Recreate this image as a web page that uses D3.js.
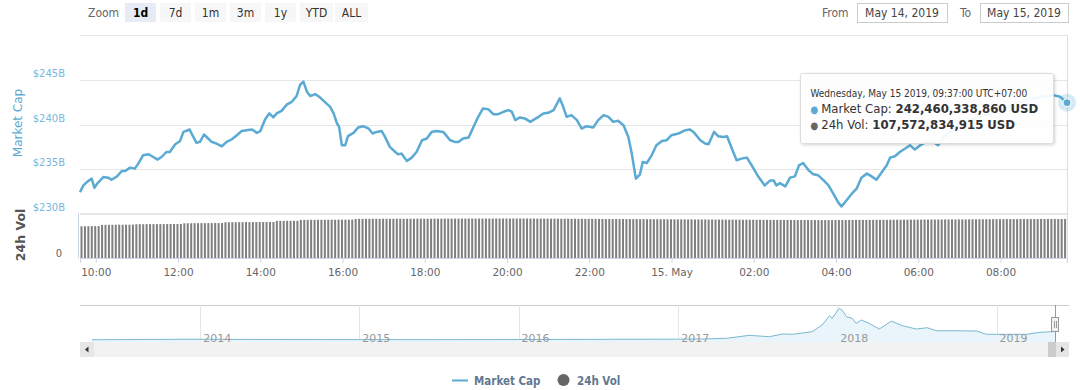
<!DOCTYPE html>
<html>
<head>
<meta charset="utf-8">
<script src="https://cdn.jsdelivr.net/npm/d3@7"></script>
<style>
  body { margin: 0; background: #fff; }
  svg { display: block; font-family: "DejaVu Sans", sans-serif; }
</style>
</head>
<body>
<script>
var width = 1080, height = 390;

// Market cap, minutes after 09:37 on May 14 2019, values in $B
var capMinutes = [0,5,10,17,21,25,34,41,46,54,61,66,73,80,85,92,100,107,113,119,126,131,139,146,151,160,164,170,175,181,187,192,199,207,214,221,229,236,243,251,258,263,270,276,282,287,294,302,309,316,321,326,331,336,343,350,357,365,370,375,378,382,387,391,399,406,413,421,427,433,440,445,452,460,464,469,477,484,491,499,506,513,520,530,540,547,552,559,567,574,581,588,596,603,610,618,625,630,635,642,649,657,661,669,676,683,691,698,700,705,710,717,725,732,739,749,756,764,771,778,785,793,800,805,811,817,821,827,834,841,849,856,863,873,883,890,895,905,912,917,925,931,939,944,951,958,965,973,980,990,999,1007,1012,1016,1021,1029,1036,1043,1049,1055,1063,1070,1077,1085,1092,1099,1106,1111,1119,1126,1133,1140,1148,1155,1162,1170,1177,1182,1189,1196,1204,1211,1218,1226,1237,1245,1252,1262,1277,1291,1306,1320,1335,1350,1364,1379,1393,1403,1420,1430,1440];
var capValues = [232.45,233.20,233.57,233.96,232.94,233.39,234.13,234.07,233.84,234.21,234.81,234.81,235.19,235.08,235.64,236.57,236.69,236.38,236.09,236.38,236.94,236.94,237.81,238.18,239.19,239.46,238.82,237.96,238.07,238.90,238.45,238.07,237.89,237.58,238.07,238.34,238.82,239.30,239.38,239.46,239.08,239.27,240.58,241.26,240.81,241.26,241.55,242.27,242.56,243.20,244.44,244.81,243.69,243.20,243.43,243.06,242.56,242.00,241.26,240.13,239.75,237.70,237.70,238.71,239.08,239.69,239.83,239.57,239.01,239.19,239.30,238.63,237.51,236.94,236.69,236.76,235.93,236.31,236.94,238.26,238.45,239.19,239.30,239.19,238.26,238.07,238.07,238.45,238.56,239.75,240.88,241.82,241.71,241.18,241.18,241.44,241.63,241.44,240.51,240.81,240.70,240.31,240.51,240.88,241.26,241.33,241.63,242.67,242.94,242.00,240.88,241.07,240.51,239.57,239.83,239.69,240.51,241.07,240.88,240.31,240.43,239.94,238.63,236.76,233.96,234.44,235.82,235.71,236.57,237.70,238.18,238.26,238.82,239.01,239.38,239.46,239.19,238.26,237.89,237.81,239.19,238.71,238.63,238.71,237.33,236.01,236.20,236.31,235.45,234.13,233.20,233.76,233.76,233.20,233.46,233.09,234.07,234.21,235.45,235.71,234.89,234.44,234.33,233.76,233.20,232.27,231.33,230.84,231.60,232.27,232.83,234.07,234.52,234.21,233.84,234.70,235.45,236.31,236.46,236.94,237.33,237.70,237.21,237.70,238.15,238.07,237.70,238.82,239.61,240.28,240.73,241.07,241.40,241.85,242.30,242.75,242.98,243.12,243.31,243.12,242.46];

// 24h volume in $B, one value per 5 minutes, one row per hour
var volValues = [
  87.4,87.6,87.5,87.8,87.9,88.1,91.2,91.4,91.3,91.6,91.5,91.7,
  91.6,91.8,91.7,92.0,93.1,93.2,93.0,93.3,93.2,93.4,93.3,93.5,
  93.4,93.6,93.5,93.7,93.6,93.8,95.7,95.9,95.8,96.0,95.9,96.1,
  96.0,96.2,96.1,96.3,96.2,96.4,98.5,98.6,98.7,98.6,98.8,98.7,
  98.9,98.8,99.0,98.9,99.1,99.0,99.2,99.1,99.3,102.2,102.4,102.3,
  102.5,102.4,102.6,102.5,105.0,105.2,105.1,105.3,105.2,105.4,105.3,105.5,
  105.4,105.6,105.5,105.7,105.6,105.8,105.7,105.9,107.8,108.0,107.9,108.1,
  108.0,107.9,108.1,108.0,108.2,108.1,108.0,108.2,108.1,108.3,108.2,108.1,
  108.3,108.2,108.4,108.3,108.2,108.4,108.3,108.5,108.4,108.3,108.5,108.4,
  108.6,108.5,108.4,108.6,108.5,108.7,108.6,108.5,108.7,108.6,108.8,108.7,
  108.6,108.8,108.7,108.9,108.8,108.7,108.9,108.8,108.7,108.9,108.8,108.6,
  108.7,108.5,108.6,108.4,108.5,108.3,108.4,108.2,108.3,108.1,108.2,108.0,
  108.1,107.9,108.0,107.8,107.9,107.7,107.8,107.6,107.7,107.5,107.6,107.4,
  107.5,107.3,107.4,107.2,107.3,107.1,107.2,107.0,107.1,106.9,107.0,106.8,
  106.9,106.7,106.8,106.6,106.7,106.5,106.6,106.4,106.5,106.3,106.4,106.2,
  106.3,106.1,106.2,106.0,106.1,105.9,106.0,105.8,105.9,105.7,105.8,105.6,
  105.7,105.5,105.6,105.4,105.5,105.3,105.4,105.2,105.3,105.1,105.2,105.0,
  105.1,104.9,105.0,104.8,104.9,104.7,104.8,104.6,104.7,104.5,104.6,104.4,
  104.5,104.4,104.6,104.5,104.7,104.6,104.8,104.7,104.9,104.8,105.0,104.9,
  105.1,105.0,105.2,105.1,105.3,105.2,105.4,105.3,105.5,105.4,105.6,105.5,
  105.7,105.6,105.8,105.7,105.9,105.8,106.0,105.9,106.1,106.0,106.2,106.1,
  106.3,106.2,106.4,106.3,106.5,106.4,106.6,106.5,106.7,106.6,106.8,106.7,
  106.9,106.8,107.0,106.9,107.1,107.0,107.2,107.1,107.3,107.2,107.4,107.3,
  107.4,107.3,107.5,107.4,107.5,107.4,107.6,107.5,107.6,107.5,107.6,107.57
];

// Navigator history of total market cap ($B)
var navDates = ['2013-04-28','2013-12-04','2014-06-01','2015-01-01','2015-06-01','2016-01-01','2016-06-15','2017-01-01','2017-03-01','2017-04-22','2017-06-13','2017-07-29','2017-08-28','2017-09-20','2017-11-04','2017-11-27','2017-12-14','2017-12-20','2018-01-05','2018-01-12','2018-01-22','2018-02-04','2018-02-13','2018-02-25','2018-03-15','2018-04-07','2018-05-05','2018-05-30','2018-07-01','2018-07-26','2018-08-16','2018-09-22','2018-11-16','2018-12-09','2019-01-01','2019-03-11','2019-04-10','2019-05-09','2019-05-15'];
var navValues = [1.5,15,8,5,3.5,7,12,17,22,39,118,82,153,145,213,389,634,565,828,784,608,565,434,521,434,284,494,371,284,318,239,239,231,145,145,145,197,213,242];
var navYears = ['2014','2015','2016','2017','2018','2019'];

var zoomButtons = ['1d','7d','1m','3m','1y','YTD','ALL'];
var yTicks = [230, 235, 240, 245];

var capColor = '#5aaad3', volColor = '#808080';
var condensed = '"DejaVu Sans Condensed", "DejaVu Sans", sans-serif';

var svg = d3.select('body').append('svg')
  .attr('width', width).attr('height', height);

var defs = svg.append('defs');
var shadow = defs.append('filter').attr('id', 'shadow')
  .attr('x', '-10%').attr('y', '-10%').attr('width', '130%').attr('height', '140%');
shadow.append('feDropShadow').attr('dx', 1).attr('dy', 1).attr('stdDeviation', 1.5)
  .attr('flood-color', '#000').attr('flood-opacity', 0.18);

var start = new Date(2019, 4, 14, 9, 37);
function atMinute(m) { return new Date(start.getTime() + m * 60000); }

var plotLeft = 80, plotRight = 1067;
var x = d3.scaleTime().domain([start, atMinute(1440)]).range([plotLeft, plotRight]);
var yCap = d3.scaleLinear().domain([230, 245]).range([214, 80]);
var yVol = d3.scaleLinear().domain([0, 124]).range([258, 213]);

// ---- range selector ----
svg.append('text').attr('x', 88).attr('y', 17).attr('font-size', 12)
  .attr('font-family', condensed).attr('fill', '#666').text('Zoom');
var btnX = [125, 160, 195, 230, 265, 300, 335], btnW = [31, 31, 31, 31, 31, 33, 33];
zoomButtons.forEach(function(b, i) {
  var g = svg.append('g').attr('transform', 'translate(' + btnX[i] + ',3)');
  g.append('rect').attr('width', btnW[i]).attr('height', 19)
    .attr('fill', i === 0 ? '#e6ebf5' : '#f7f7f7');
  g.append('text').attr('x', btnW[i] / 2).attr('y', 14).attr('text-anchor', 'middle')
    .attr('font-size', 12).attr('font-weight', i === 0 ? 'bold' : 'normal')
    .attr('font-family', condensed)
    .attr('fill', i === 0 ? '#000' : '#333').text(b);
});
svg.append('text').attr('x', 822).attr('y', 17).attr('font-size', 12)
  .attr('font-family', condensed).attr('fill', '#666').text('From');
svg.append('rect').attr('x', 857.5).attr('y', 3.5).attr('width', 90).attr('height', 19)
  .attr('fill', '#fff').attr('stroke', '#ccc');
svg.append('text').attr('x', 902).attr('y', 17).attr('text-anchor', 'middle')
  .attr('font-size', 12).attr('font-family', condensed).attr('fill', '#444').text('May 14, 2019');
svg.append('text').attr('x', 960).attr('y', 17).attr('font-size', 12)
  .attr('font-family', condensed).attr('fill', '#666').text('To');
svg.append('rect').attr('x', 980.5).attr('y', 3.5).attr('width', 88).attr('height', 19)
  .attr('fill', '#fff').attr('stroke', '#ccc');
svg.append('text').attr('x', 1024).attr('y', 17).attr('text-anchor', 'middle')
  .attr('font-size', 12).attr('font-family', condensed).attr('fill', '#444').text('May 15, 2019');

// ---- grid ----
svg.append('g').selectAll('line').data(yTicks).enter().append('line')
  .attr('x1', plotLeft).attr('x2', plotRight)
  .attr('y1', function(d) { return Math.round(yCap(d)) + 0.5; })
  .attr('y2', function(d) { return Math.round(yCap(d)) + 0.5; })
  .attr('stroke', '#e6e6e6');
svg.append('line').attr('x1', plotLeft).attr('x2', plotRight).attr('y1', 35.5).attr('y2', 35.5)
  .attr('stroke', '#e6e6e6');

svg.append('g').selectAll('text').data(yTicks).enter().append('text')
  .attr('x', 65).attr('y', function(d) { return yCap(d) - 3; })
  .attr('text-anchor', 'end').attr('font-size', 10).attr('fill', '#7cb5dc')
  .text(function(d) { return '$' + d + 'B'; });
svg.append('text').attr('transform', 'translate(22,123) rotate(-90)')
  .attr('text-anchor', 'middle').attr('font-size', 12).attr('fill', capColor)
  .text('Market Cap');

// ---- volume pane ----
svg.append('line').attr('x1', plotLeft).attr('x2', plotRight).attr('y1', 213.5).attr('y2', 213.5)
  .attr('stroke', '#e6e6e6');
svg.append('line').attr('x1', 78.5).attr('x2', 78.5).attr('y1', 213).attr('y2', 258)
  .attr('stroke', '#ccd6eb');
svg.append('text').attr('x', 62).attr('y', 257).attr('text-anchor', 'end')
  .attr('font-size', 10).attr('fill', '#666').text('0');
svg.append('text').attr('transform', 'translate(25,235) rotate(-90)')
  .attr('text-anchor', 'middle').attr('font-size', 12.5).attr('font-weight', 'bold')
  .attr('fill', '#555').text('24h Vol');

var step = (plotRight - plotLeft) / volValues.length;
svg.append('g').selectAll('rect').data(volValues).enter().append('rect')
  .attr('x', function(d, i) { return x(atMinute(i * 5)) + 0.5; })
  .attr('width', Math.max(1, step - 1.4))
  .attr('y', function(d) { return yVol(d); })
  .attr('height', function(d) { return 258 - yVol(d); })
  .attr('fill', volColor);

// ---- x axis ----
var xAxis = d3.axisBottom(x).ticks(d3.timeHour.every(2)).tickSize(5).tickPadding(6)
  .tickFormat(function(d) { return d.getHours() === 0 ? '15. May' : d3.timeFormat('%H:%M')(d); });
var gx = svg.append('g').attr('transform', 'translate(0,258)').call(xAxis);
gx.select('.domain').attr('stroke', '#ccd6eb');
gx.selectAll('.tick line').attr('stroke', '#ccd6eb');
gx.selectAll('.tick text').attr('fill', '#666').attr('font-size', 10.5)
  .attr('font-family', '"DejaVu Sans", sans-serif');

// ---- market cap line ----
var capData = capMinutes.map(function(m, i) { return [atMinute(m), capValues[i]]; });
var line = d3.line().x(function(d) { return x(d[0]); }).y(function(d) { return yCap(d[1]); });
svg.append('path').datum(capData).attr('d', line).attr('fill', 'none')
  .attr('stroke', capColor).attr('stroke-width', 2.5).attr('stroke-linejoin', 'round');

// crosshair and hover marker
var last = capData[capData.length - 1];
svg.append('line').attr('x1', x(last[0]) + 0.5).attr('x2', x(last[0]) + 0.5)
  .attr('y1', 35).attr('y2', 258).attr('stroke', '#ddd');
svg.append('circle').attr('cx', x(last[0])).attr('cy', yCap(last[1])).attr('r', 9)
  .attr('fill', capColor).attr('opacity', 0.25);
svg.append('circle').attr('cx', x(last[0])).attr('cy', yCap(last[1])).attr('r', 4)
  .attr('fill', capColor).attr('stroke', '#fff').attr('stroke-width', 1);

// ---- tooltip ----
var tip = svg.append('g').attr('transform', 'translate(800.5,73.5)');
tip.append('rect').attr('width', 253).attr('height', 70).attr('rx', 2)
  .attr('fill', 'rgba(255,255,255,0.93)').attr('stroke', '#ddd').attr('filter', 'url(#shadow)');
tip.append('text').attr('x', 10).attr('y', 23).attr('font-size', 10).attr('fill', '#333')
  .attr('font-family', condensed)
  .text('Wednesday, May 15 2019, 09:37:00 UTC+07:00');
var tipRows = [
  {color: capColor, name: 'Market Cap: ', value: '242,460,338,860 USD'},
  {color: '#666', name: '24h Vol: ', value: '107,572,834,915 USD'}
];
tipRows.forEach(function(r, i) {
  var t = tip.append('text').attr('x', 10).attr('y', 39 + i * 16).attr('font-size', 13)
    .attr('font-family', condensed).attr('fill', '#333');
  t.append('tspan').attr('fill', r.color).attr('font-size', 10).text('\u25CF ');
  t.append('tspan').text(r.name);
  t.append('tspan').attr('font-weight', 'bold').text(r.value);
});

// ---- navigator ----
var navTop = 305, navBottom = 342;
var parse = d3.timeParse('%Y-%m-%d');
var nx = d3.scaleTime().domain([parse('2013-04-28'), parse('2019-05-15')]).range([92, 1055]);
var ny = d3.scaleLinear().domain([0, 830]).range([339.8, 308.3]);

svg.append('line').attr('x1', plotLeft).attr('x2', 1069).attr('y1', navTop + 0.5).attr('y2', navTop + 0.5)
  .attr('stroke', '#ccc');
svg.append('g').selectAll('line').data(navYears).enter().append('line')
  .attr('x1', function(d) { return Math.round(nx(parse(d + '-01-01'))) + 0.5; })
  .attr('x2', function(d) { return Math.round(nx(parse(d + '-01-01'))) + 0.5; })
  .attr('y1', navTop).attr('y2', navBottom).attr('stroke', '#e6e6e6');

var navData = navDates.map(function(d, i) { return [parse(d), navValues[i]]; });
svg.append('path').datum(navData)
  .attr('d', d3.area().x(function(d) { return nx(d[0]); }).y0(navBottom).y1(function(d) { return ny(d[1]); }))
  .attr('fill', '#e9f4fb');
svg.append('path').datum(navData)
  .attr('d', d3.line().x(function(d) { return nx(d[0]); }).y(function(d) { return ny(d[1]); }))
  .attr('fill', 'none').attr('stroke', '#7ab8cf').attr('stroke-width', 1);

svg.append('g').selectAll('text').data(navYears).enter().append('text')
  .attr('x', function(d) { return nx(parse(d + '-01-01')) + 3; })
  .attr('y', 342).attr('font-size', 11).attr('fill', '#999').text(function(d) { return d; });

// scrollbar
svg.append('rect').attr('x', plotLeft).attr('y', 342).attr('width', plotRight - plotLeft + 2).attr('height', 15)
  .attr('fill', '#f2f2f2');
svg.append('rect').attr('x', plotLeft).attr('y', 342).attr('width', 14).attr('height', 15)
  .attr('fill', '#e6e6e6');
svg.append('path').attr('d', 'M88.5,346.5 L85,349.5 L88.5,352.5 Z').attr('fill', '#333');
svg.append('rect').attr('x', 1048).attr('y', 342).attr('width', 8).attr('height', 15).attr('fill', '#ccc');
svg.append('rect').attr('x', 1056).attr('y', 342).attr('width', 13).attr('height', 15).attr('fill', '#e6e6e6');
svg.append('path').attr('d', 'M1061,346.5 L1064.5,349.5 L1061,352.5 Z').attr('fill', '#333');

// navigator handle
svg.append('line').attr('x1', 1055.5).attr('x2', 1055.5).attr('y1', navTop).attr('y2', navBottom)
  .attr('stroke', '#999');
svg.append('rect').attr('x', 1051.5).attr('y', 317.5).attr('width', 7).attr('height', 14)
  .attr('fill', '#f2f2f2').attr('stroke', '#999');
svg.append('path').attr('d', 'M1054.5,321 V328 M1056.5,321 V328').attr('stroke', '#999');

// ---- legend ----
svg.append('line').attr('x1', 452).attr('x2', 468).attr('y1', 380.5).attr('y2', 380.5)
  .attr('stroke', capColor).attr('stroke-width', 2);
svg.append('text').attr('x', 474).attr('y', 384.5).attr('font-size', 11.5).attr('font-weight', 'bold')
  .attr('font-family', condensed).attr('fill', '#627891').text('Market Cap');
svg.append('circle').attr('cx', 563.5).attr('cy', 380).attr('r', 6).attr('fill', '#666');
svg.append('text').attr('x', 577).attr('y', 384.5).attr('font-size', 11.5).attr('font-weight', 'bold')
  .attr('font-family', condensed).attr('fill', '#627891').text('24h Vol');
</script>
</body>
</html>
